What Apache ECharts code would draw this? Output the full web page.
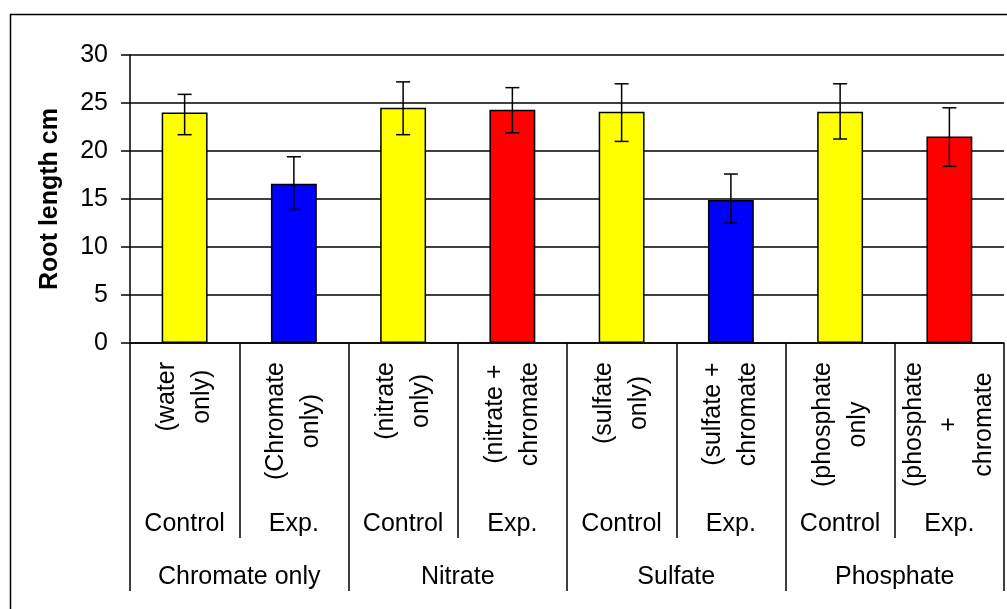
<!DOCTYPE html>
<html>
<head>
<meta charset="utf-8">
<script src="https://cdn.jsdelivr.net/npm/echarts@6/dist/echarts.min.js"></script>
<style>
html,body{margin:0;padding:0;background:#fff;}
#chart{width:1007px;height:609px;}
</style>
</head>
<body>
<div id="chart"></div>
<script>
const treatments = ['(water\nonly)', '(Chromate\nonly)', '(nitrate\nonly)', '(nitrate +\nchromate', '(sulfate\nonly)', '(sulfate +\nchromate', '(phosphate\nonly', '(phosphate\n+\nchromate'];
const conditions = ['Control', 'Exp.', 'Control', 'Exp.', 'Control', 'Exp.', 'Control', 'Exp.'];
const groups = ['Chromate only', 'Nitrate', 'Sulfate', 'Phosphate'];
const rootLength = [24.0, 16.6, 24.5, 24.3, 24.1, 14.9, 24.1, 21.5];
const errLow = [21.7, 13.9, 21.7, 21.9, 21.0, 12.5, 21.25, 18.4];
const errHigh = [25.9, 19.4, 27.2, 26.6, 27.0, 17.6, 27.0, 24.5];
const yTicks = [0, 5, 10, 15, 20, 25, 30];
const barColors = ['#FFFF00', '#0000FF', '#FFFF00', '#FF0000', '#FFFF00', '#0000FF', '#FFFF00', '#FF0000'];

const FONT = 'Liberation Sans, Arial, sans-serif';
const FS = 25;
const chart = echarts.init(document.getElementById('chart'), null, {renderer: 'canvas'});

const option = {
  animation: false,
  backgroundColor: '#fff',
  graphic: [{
    type: 'rect', left: 8, top: 12, shape: {width: 1010, height: 610},
    style: {fill: 'none', stroke: '#000', lineWidth: 1.5}, silent: true
  }],
  grid: {left: 130, right: 3, top: 55, bottom: 266, containLabel: false},
  xAxis: [
    {
      type: 'category', data: treatments, position: 'bottom',
      axisLine: {show: true, lineStyle: {color: '#000', width: 1.5}},
      axisTick: {show: true, interval: 0, length: 195, lineStyle: {color: '#000', width: 1.5}},
      axisLabel: {
        interval: 0, rotate: 90, margin: 19, color: '#000',
        fontFamily: FONT, fontSize: FS,
        formatter: v => v.split('\n').map(l => '{c|' + l + '}').join('\n'),
        rich: {c: {align: 'center', fontFamily: FONT, fontSize: FS, lineHeight: 35, color: '#000'}}
      },
      splitLine: {show: false}
    },
    {
      type: 'category', data: conditions, position: 'bottom',
      axisLine: {show: false}, axisTick: {show: false},
      axisLabel: {interval: 0, margin: 169, color: '#000', fontFamily: FONT, fontSize: FS, lineHeight: FS},
      splitLine: {show: false}
    },
    {
      type: 'category', data: groups, position: 'bottom',
      axisLine: {show: false},
      axisTick: {show: true, interval: 0, length: 248, lineStyle: {color: '#000', width: 1.5}},
      axisLabel: {interval: 0, margin: 222, color: '#000', fontFamily: FONT, fontSize: FS, lineHeight: FS},
      splitLine: {show: false}
    }
  ],
  yAxis: {
    type: 'value', min: yTicks[0], max: yTicks[yTicks.length - 1], interval: 5,
    name: 'Root length cm', nameLocation: 'middle', nameGap: 67, nameRotate: 90,
    nameTextStyle: {fontFamily: FONT, fontSize: FS, fontWeight: 'bold', color: '#000'},
    axisLine: {show: true, lineStyle: {color: '#000', width: 1.5}},
    axisTick: {show: true, inside: false, length: 9, lineStyle: {color: '#000', width: 1.5}},
    axisLabel: {margin: 22, color: '#000', fontFamily: FONT, fontSize: FS},
    splitLine: {show: true, lineStyle: {color: '#000', width: 1.5}}
  },
  series: [
    {
      type: 'bar', xAxisIndex: 0, barWidth: '42%',
      data: rootLength.map((v, i) => ({value: v, itemStyle: {color: barColors[i]}})),
      itemStyle: {borderColor: '#000', borderWidth: 1.5},
      z: 3
    },
    {
      type: 'custom', xAxisIndex: 0, z: 5,
      data: rootLength.map((v, i) => [i, errLow[i], errHigh[i]]),
      renderItem: function (params, api) {
        const i = api.value(0);
        const lo = api.coord([i, api.value(1)]);
        const hi = api.coord([i, api.value(2)]);
        const hw = 7;
        const st = {stroke: '#000', lineWidth: 1.5};
        return {
          type: 'group',
          children: [
            {type: 'line', shape: {x1: lo[0], y1: lo[1], x2: hi[0], y2: hi[1]}, style: st},
            {type: 'line', shape: {x1: hi[0] - hw, y1: hi[1], x2: hi[0] + hw, y2: hi[1]}, style: st},
            {type: 'line', shape: {x1: lo[0] - hw, y1: lo[1], x2: lo[0] + hw, y2: lo[1]}, style: st}
          ]
        };
      }
    }
  ]
};
chart.setOption(option);
</script>
</body>
</html>
